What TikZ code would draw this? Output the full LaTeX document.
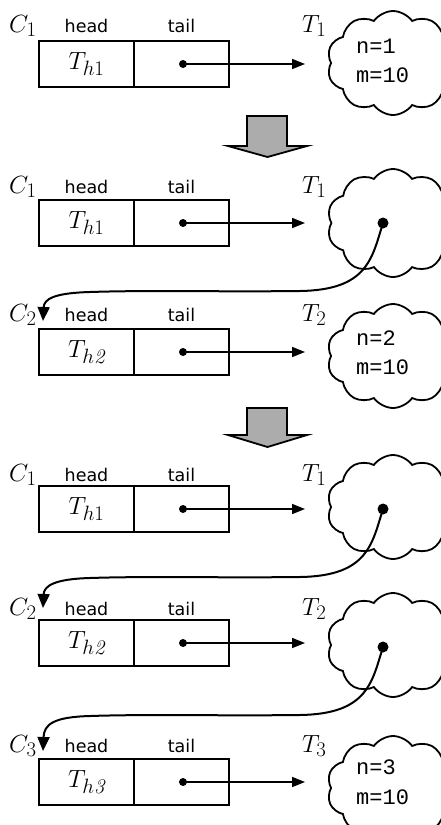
\documentclass[tikz,border=0pt]{standalone}
\usepackage{fontspec}
\newfontfamily\labfont{DejaVu Sans}
\newfontfamily\cloudfont{Liberation Mono}
\usetikzlibrary{shapes.symbols,arrows.meta}
\tikzset{
 cell/.style={draw,line width=1.8pt,minimum width=95pt,minimum height=46pt,inner sep=0pt,font=\fontsize{24.88}{28}\selectfont},
 lab/.style={font=\labfont\fontsize{17.5}{20}\selectfont,anchor=base,inner sep=0pt},
 mlab/.style={font=\fontsize{24.88}{28}\selectfont,anchor=base west,inner sep=0pt},
 cloudshape/.style={cloud,draw,line width=1.8pt,cloud puffs=10,cloud puff arc=110,cloud ignores aspect,minimum width=132pt,minimum height=104pt,inner sep=0pt},
 ctext/.style={font=\cloudfont\fontsize{22}{24}\selectfont,anchor=base west,inner sep=0pt},
 ptr/.style={line width=1.6pt,-{Triangle[length=13pt,width=10pt]}},
 dotst/.style={circle,fill,inner sep=0pt,minimum size=8pt},
 bigdot/.style={circle,fill,inner sep=0pt,minimum size=11pt},
 link/.style={line width=2pt,-{Triangle[length=14pt,width=12pt]}},
 bigarrow/.style={draw,line width=1.8pt,fill=gray!65}
}
\newcommand{\rowbox}[6]{%
  \node[cell] (#1h) at (86.5,#2+23) {$#5$};
  \node[cell] (#1t) at (181.5,#2+23) {};
  \node[mlab] (#1c) at (9,#3) {$#4$};
  \node[lab] (#1hl) at (86.5,#3) {head};
  \node[lab] (#1tl) at (181.5,#3) {tail};
  \node[mlab] (#1T) at (302,#3) {$#6$};
  \node[dotst] (#1d) at (183,#2+23) {};
  \coordinate (#1e) at (305,#2+23);
  \draw[ptr] (#1d.center) -- (#1e);
}
\begin{document}
\begin{tikzpicture}[x=1pt,y=-1pt]
\useasboundingbox (0,0) rectangle (440,825);
% rows
\rowbox{A}{41}{32}{C_1}{T_{h1}}{T_1}
\rowbox{B}{200}{193}{C_1}{T_{h1}}{T_1}
\rowbox{C}{329}{321}{C_2}{T_{h\mathit{2}}}{T_2}
\rowbox{D}{486}{481}{C_1}{T_{h1}}{T_1}
\rowbox{E}{620}{615}{C_2}{T_{h\mathit{2}}}{T_2}
\rowbox{F}{759}{752}{C_3}{T_{h\mathit{3}}}{T_3}
% clouds
\node[cloudshape] (kA) at (393,63) {};
\node[ctext] (kAn) at (356,53) {n=1};
\node[ctext] (kAm) at (356,82) {m=10};
\node[cloudshape,minimum height=108pt] (kB) at (393,223) {};
\node[bigdot] (kBd) at (383,223) {};
\node[cloudshape] (kC) at (393,356) {};
\node[ctext] (kCn) at (356,345) {n=2};
\node[ctext] (kCm) at (356,374) {m=10};
\node[cloudshape] (kD) at (393,507) {};
\node[bigdot] (kDd) at (383,509) {};
\node[cloudshape] (kE) at (393,645) {};
\node[bigdot] (kEd) at (383,647) {};
\node[cloudshape] (kF) at (393,788) {};
\node[ctext] (kFn) at (356,774) {n=3};
\node[ctext] (kFm) at (356,804) {m=10};
% big arrows
\draw[bigarrow] (247,116) -- (287,116) -- (287,146) -- (307,146) -- (267.5,157) -- (228,146) -- (247,146) -- cycle;
\draw[bigarrow] (247,408) -- (287,408) -- (287,435) -- (307,435) -- (267.5,447) -- (228,435) -- (247,435) -- cycle;
% links
\coordinate (tipC) at (43,321);
\coordinate (tipE) at (43,608);
\coordinate (tipF) at (43,751);
\draw[link] (kBd.center) .. controls (372,258) and (368,290) .. (300,291)
  .. controls (220,292) and (150,290) .. (90,292) .. controls (54,293) and (44,299) .. (tipC);
\draw[link] (kDd.center) .. controls (372,544) and (368,576) .. (300,577)
  .. controls (220,578) and (150,576) .. (90,578) .. controls (54,579) and (44,586) .. (tipE);
\draw[link] (kEd.center) .. controls (372,682) and (368,714) .. (300,715)
  .. controls (220,716) and (150,714) .. (90,716) .. controls (54,717) and (44,724) .. (tipF);
\end{tikzpicture}
\end{document}
